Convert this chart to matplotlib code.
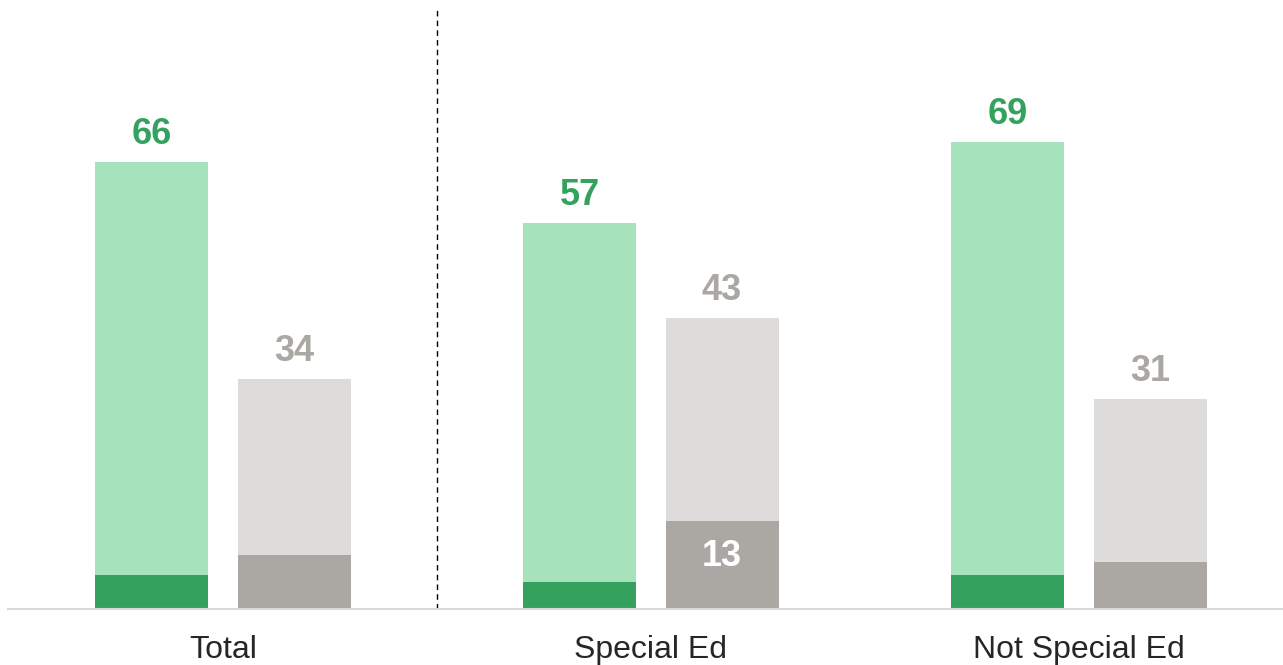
import matplotlib
matplotlib.use("Agg")
import matplotlib.pyplot as plt
import numpy as np

plt.rcParams["font.family"] = ["Liberation Sans", "DejaVu Sans"]

categories = ["Total", "Special Ed", "Not Special Ed"]
green_total = [66, 57, 69]
green_base = [5, 4, 5]
grey_total = [34, 43, 31]
grey_base = [8, 13, 7]
grey_base_labels = [None, "13", None]

GREEN_LIGHT = "#a6e2bb"
GREEN_DARK = "#34a25e"
GREY_LIGHT = "#dddcdb"
GREY_DARK = "#aba7a3"

W, H = 1283, 665
fig = plt.figure(figsize=(W / 100, H / 100), dpi=100)
ax = fig.add_axes([8 / W, 56 / H, 1275 / W, 601 / H])

x = np.arange(len(categories))
bw = 0.264
off = 0.166
px_per_unit = 6.77
gap = 18 / px_per_unit

# light full bars, dark base segments on top
ax.bar(x - off, green_total, bw, color=GREEN_LIGHT)
ax.bar(x - off, green_base, bw, color=GREEN_DARK)
ax.bar(x + off, grey_total, bw, color=GREY_LIGHT)
ax.bar(x + off, grey_base, bw, color=GREY_DARK)

for i in range(len(categories)):
    ax.text(x[i] - off, green_total[i] + gap, str(green_total[i]), ha="center",
            va="baseline", fontsize=26, fontweight="bold", color=GREEN_DARK)
    ax.text(x[i] + off, grey_total[i] + gap, str(grey_total[i]), ha="center",
            va="baseline", fontsize=26, fontweight="bold", color=GREY_DARK)
    if grey_base_labels[i]:
        ax.text(x[i] + off, grey_base[i] * 0.6, grey_base_labels[i], ha="center",
                va="center", fontsize=26, fontweight="bold", color="white")

ax.axvline(0.5, color="black", lw=1, ls=(0, (4, 3)))

ax.set_xlim((8 - 223) / 428, (1283 - 223) / 428)
ax.set_ylim(0, 601 / px_per_unit)
ax.set_xticks(x)
ax.set_xticklabels(categories, fontsize=23, color="#262626")
ax.tick_params(axis="x", length=0, pad=19)
ax.set_yticks([])
for s in ("top", "left", "right"):
    ax.spines[s].set_visible(False)
ax.spines["bottom"].set_color("#d9d9d9")
ax.spines["bottom"].set_linewidth(1.5)

fig.savefig("out.png", dpi=100)
